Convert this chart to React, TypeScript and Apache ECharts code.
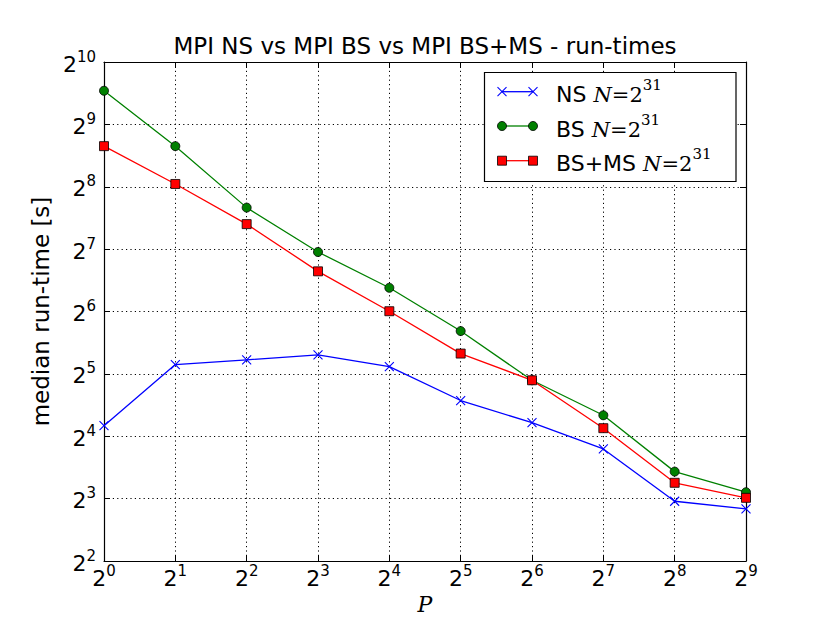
import React, { useEffect, useRef } from "react";
import * as echarts from "echarts";

// Processor counts P (x axis, log base 2)
const processors = [1, 2, 4, 8, 16, 32, 64, 128, 256, 512];
// median run-times in seconds
const nsTimes = [18.0, 35.5, 37.4, 39.5, 34.7, 23.8, 18.6, 13.9, 7.77, 7.14];
const bsTimes = [744, 402, 203, 124, 83.3, 51.5, 29.8, 20.2, 10.8, 8.59];
const bsmsTimes = [402, 264, 169, 100, 64.2, 40.1, 29.8, 17.5, 9.54, 8.07];

const seriesNames = ["NS", "BS", "BS+MS"];
const titleText = "MPI NS vs MPI BS vs MPI BS+MS - run-times";
const yTitle = "median run-time [s]";
const xTitle = "P";
const legendExponent = "31";

const SANS = "DejaVu Sans";
const SERIF = "DejaVu Serif";

const pow2Label = (v: number) => `{b|2}{s|${Math.round(Math.log2(v))}}`;

const tickRich = {
  b: { fontFamily: SANS, fontSize: 22, lineHeight: 26, verticalAlign: "bottom", color: "#000" },
  s: { fontFamily: SANS, fontSize: 15, lineHeight: 11, verticalAlign: "top", color: "#000" },
};

export default function App() {
  const ref = useRef<HTMLDivElement>(null);
  useEffect(() => {
    if (!ref.current) return;
    const chart = echarts.init(ref.current, undefined, { renderer: "svg" });

    const gridL = 104, gridR = 84, gridT = 62, gridB = 62;
    const axisLineStyle = { color: "#000", width: 1.2 };
    const tick = { show: true, inside: true, length: 6, lineStyle: { color: "#000", width: 1 } };
    const split = { show: true, lineStyle: { color: "#000", width: 1, type: [1.2, 3.2] as any } };

    const xBase = { type: "log" as const, logBase: 2, min: 1, max: 512 };
    const yBase = { type: "log" as const, logBase: 2, min: 4, max: 1024 };

    const data = (arr: number[]) => processors.map((p, i) => [p, arr[i]]);

    // legend drawn as graphics (two markers per entry like the original)
    const rowsY = [91.7, 126, 160.7];
    const lx1 = 502, lx2 = 533;
    const legendEls: any[] = [
      {
        type: "rect",
        shape: { x: 484.5, y: 72.5, width: 251.5, height: 109 },
        style: { fill: "#fff", stroke: "#000", lineWidth: 1.2 },
        z: 100,
      },
    ];
    const colors = ["#0000ff", "#008000", "#ff0000"];
    rowsY.forEach((y, i) => {
      legendEls.push({
        type: "line",
        shape: { x1: lx1, y1: y, x2: lx2, y2: y },
        style: { stroke: colors[i], lineWidth: 1.3 },
        z: 101,
      });
      [lx1, lx2].forEach((x) => {
        if (i === 0) {
          legendEls.push({
            type: "line",
            shape: { x1: x - 4.5, y1: y - 4.5, x2: x + 4.5, y2: y + 4.5 },
            style: { stroke: colors[i], lineWidth: 1.1 },
            z: 102,
          });
          legendEls.push({
            type: "line",
            shape: { x1: x - 4.5, y1: y + 4.5, x2: x + 4.5, y2: y - 4.5 },
            style: { stroke: colors[i], lineWidth: 1.1 },
            z: 102,
          });
        } else if (i === 1) {
          legendEls.push({
            type: "circle",
            shape: { cx: x, cy: y, r: 4.5 },
            style: { fill: colors[i], stroke: "#000", lineWidth: 0.8 },
            z: 102,
          });
        } else {
          legendEls.push({
            type: "rect",
            shape: { x: x - 4.5, y: y - 4.5, width: 9, height: 9 },
            style: { fill: colors[i], stroke: "#000", lineWidth: 0.8 },
            z: 102,
          });
        }
      });
      legendEls.push({
        type: "text",
        x: 556,
        y: y,
        z: 102,
        style: {
          text: `{a|${seriesNames[i]} }{m|N}{r|=2}{s|${legendExponent}}`,
          verticalAlign: "middle",
          align: "left",
          rich: {
            a: { fontFamily: SANS, fontSize: 22, lineHeight: 28, verticalAlign: "bottom", color: "#000" },
            m: { fontFamily: SERIF, fontStyle: "italic", fontSize: 21, lineHeight: 28, verticalAlign: "bottom", color: "#000" },
            r: { fontFamily: SERIF, fontSize: 21, lineHeight: 28, verticalAlign: "bottom", color: "#000" },
            s: { fontFamily: SERIF, fontSize: 15, lineHeight: 11, verticalAlign: "top", color: "#000" },
          },
        },
      });
    });

    chart.setOption({
      animation: false,
      backgroundColor: "#fff",
      title: {
        text: titleText,
        left: 425,
        textAlign: "center",
        top: 34,
        padding: 0,
        textStyle: { fontFamily: SANS, fontSize: 23, fontWeight: "normal", color: "#000", lineHeight: 23 },
      },
      grid: { left: gridL, right: gridR, top: gridT, bottom: gridB, containLabel: false },
      xAxis: [
        {
          ...xBase,
          position: "bottom",
          name: xTitle,
          nameLocation: "middle",
          nameGap: 32,
          nameTextStyle: { fontFamily: SERIF, fontStyle: "italic", fontSize: 22, color: "#000" },
          axisLine: { show: true, lineStyle: axisLineStyle },
          axisTick: tick,
          minorTick: { show: false },
          splitLine: split,
          axisLabel: { formatter: pow2Label, rich: tickRich, margin: 2, showMinLabel: true, showMaxLabel: true },
        },
        {
          ...xBase,
          position: "top",
          axisLine: { show: true, lineStyle: axisLineStyle },
          axisTick: tick,
          splitLine: { show: false },
          axisLabel: { show: false },
        },
      ],
      yAxis: [
        {
          ...yBase,
          position: "left",
          name: yTitle,
          nameLocation: "middle",
          nameGap: 52,
          nameTextStyle: { fontFamily: SANS, fontSize: 23, color: "#000" },
          axisLine: { show: true, lineStyle: axisLineStyle },
          axisTick: tick,
          minorTick: { show: false },
          splitLine: split,
          axisLabel: { formatter: pow2Label, rich: tickRich, margin: 8, showMinLabel: true, showMaxLabel: true },
        },
        {
          ...yBase,
          position: "right",
          axisLine: { show: true, lineStyle: axisLineStyle },
          axisTick: tick,
          splitLine: { show: false },
          axisLabel: { show: false },
        },
      ],
      series: [
        {
          name: seriesNames[0],
          type: "line",
          data: data(nsTimes),
          symbol: "path://M0,0 L10,10 M10,0 L0,10",
          symbolSize: 9,
          showAllSymbol: true,
          lineStyle: { color: "#0000ff", width: 1.3 },
          itemStyle: { color: "#0000ff", borderColor: "#0000ff", borderWidth: 1.1 },
          z: 2,
        },
        {
          name: seriesNames[1],
          type: "line",
          data: data(bsTimes),
          symbol: "circle",
          symbolSize: 9,
          showAllSymbol: true,
          lineStyle: { color: "#008000", width: 1.3 },
          itemStyle: { color: "#008000", borderColor: "#000", borderWidth: 0.8 },
          z: 3,
        },
        {
          name: seriesNames[2],
          type: "line",
          data: data(bsmsTimes),
          symbol: "rect",
          symbolSize: 9,
          showAllSymbol: true,
          lineStyle: { color: "#ff0000", width: 1.3 },
          itemStyle: { color: "#ff0000", borderColor: "#000", borderWidth: 0.8 },
          z: 4,
        },
      ],
      graphic: { elements: legendEls },
    });
    return () => chart.dispose();
  }, []);
  return (
    <div
      ref={ref}
      style={{ position: "absolute", left: 0, top: 0, width: 830, height: 623 }}
    />
  );
}
